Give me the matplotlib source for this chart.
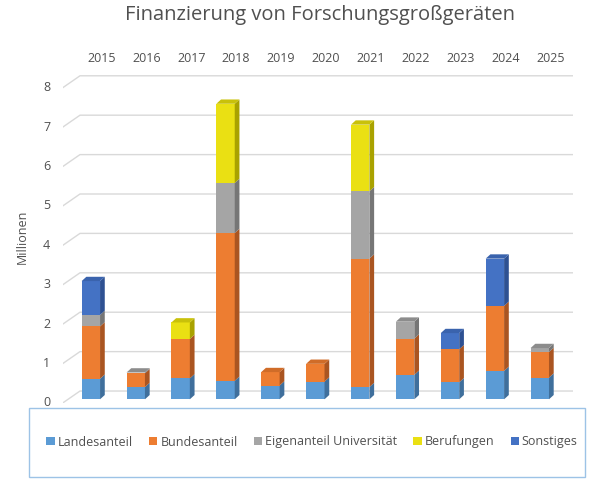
import matplotlib
matplotlib.use("Agg")
import matplotlib.pyplot as plt
from matplotlib.patches import Polygon, Rectangle, Patch
import numpy as np

plt.rcParams['font.family'] = ['Open Sans', 'DejaVu Sans']

years = ["2015", "2016", "2017", "2018", "2019", "2020", "2021", "2022", "2023", "2024", "2025"]
series_names = ["Landesanteil", "Bundesanteil", "Eigenanteil Universität", "Berufungen", "Sonstiges"]
landesanteil = [0.52, 0.31, 0.53, 0.47, 0.35, 0.45, 0.31, 0.62, 0.43, 0.72, 0.55]
bundesanteil = [1.33, 0.35, 1.00, 3.75, 0.34, 0.45, 3.26, 0.92, 0.84, 1.65, 0.65]
eigenanteil = [0.29, 0.02, 0.00, 1.27, 0.00, 0.00, 1.71, 0.43, 0.00, 0.00, 0.10]
berufungen = [0.00, 0.00, 0.42, 2.01, 0.00, 0.00, 1.69, 0.00, 0.00, 0.00, 0.00]
sonstiges = [0.86, 0.00, 0.00, 0.00, 0.00, 0.00, 0.00, 0.00, 0.41, 1.20, 0.00]
y_ticks = [0, 1, 2, 3, 4, 5, 6, 7, 8]

front_colors = ["#5B9BD5", "#ED7D31", "#A5A5A5", "#EAE013", "#4472C4"]
side_colors = ["#3F6F9C", "#AA5521", "#767676", "#A9A200", "#2E5192"]
top_colors = ["#4F89BE", "#D06C28", "#8C8C8C", "#C9C10A", "#3A63AD"]

text_color = "#505050"
grid_color = "#D9D9D9"

fig = plt.figure(figsize=(6.0, 4.82), dpi=100)
ax = fig.add_axes([62.7 / 600, (482 - 403) / 482, (573 - 62.7) / 600, (403 - 68.3) / 482])
ax.set_xlim(-0.627, 10.74)
ax.set_ylim(-0.094, 8.4)
ax.axis("off")

floor_front = -0.094
wall_dy = 0.21
wall_x = -0.242
bar_w = 0.41
bdx = 0.105
bdy = 0.109

for v in y_ticks:
    ax.plot([-0.627, wall_x, 10.74], [v + floor_front, v + wall_dy, v + wall_dy],
            color=grid_color, lw=1.0, zorder=1, solid_capstyle="butt")
    ax.text(-0.627 - 0.28, v + floor_front, str(v), ha="right", va="center",
            fontsize=9, color=text_color)

data = [landesanteil, bundesanteil, eigenanteil, berufungen, sonstiges]
x = np.arange(len(years))
bottoms = np.zeros(len(years))
for k, vals in enumerate(data):
    vals = np.array(vals)
    ax.bar(x, vals, width=bar_w, bottom=bottoms, color=front_colors[k], zorder=3, linewidth=0)
    for i in range(len(years)):
        if vals[i] <= 0:
            continue
        b = bottoms[i]
        t = b + vals[i]
        xr = x[i] + bar_w / 2
        side = Polygon([(xr, b), (xr + bdx, b + bdy), (xr + bdx, t + bdy), (xr, t)],
                       closed=True, facecolor=side_colors[k], edgecolor="none", zorder=3)
        ax.add_patch(side)
    bottoms = bottoms + vals

for i in range(len(years)):
    top_k = max(k for k in range(len(data)) if data[k][i] > 0)
    t = bottoms[i]
    xl = x[i] - bar_w / 2
    xr = x[i] + bar_w / 2
    top = Polygon([(xl, t), (xr, t), (xr + bdx, t + bdy), (xl + bdx, t + bdy)],
                  closed=True, facecolor=top_colors[top_k], edgecolor="none", zorder=4)
    ax.add_patch(top)

blend = matplotlib.transforms.blended_transform_factory(ax.transData, fig.transFigure)
for i, yr in enumerate(years):
    ax.text(x[i] + 0.236, (482 - 59) / 482, yr, ha="center", va="center", fontsize=9,
            color=text_color, transform=blend)

fig.text(22 / 600, (482 - 237) / 482, "Millionen", rotation=90, ha="center", va="center",
         fontsize=9, color=text_color)

fig.text(320 / 600, (482 - 15) / 482, "Finanzierung von Forschungsgroßgeräten", ha="center",
         va="center", fontsize=14.5, color=text_color)

fig.patches.append(Rectangle((29 / 600, (482 - 477) / 482), (585 - 29) / 600, (477 - 408) / 482,
                             transform=fig.transFigure, facecolor="white", edgecolor="#9DC3E6",
                             lw=1.0, zorder=5))
handles = [Patch(facecolor=c, edgecolor="none") for c in front_colors]
fig.legend(handles, series_names, loc="center", bbox_to_anchor=(312 / 600, (482 - 442) / 482),
           ncol=5, frameon=False, fontsize=9.0, handlelength=0.65, handleheight=0.65,
           handletextpad=0.25, columnspacing=1.3, labelcolor=text_color)

fig.savefig("out.png", dpi=100)
